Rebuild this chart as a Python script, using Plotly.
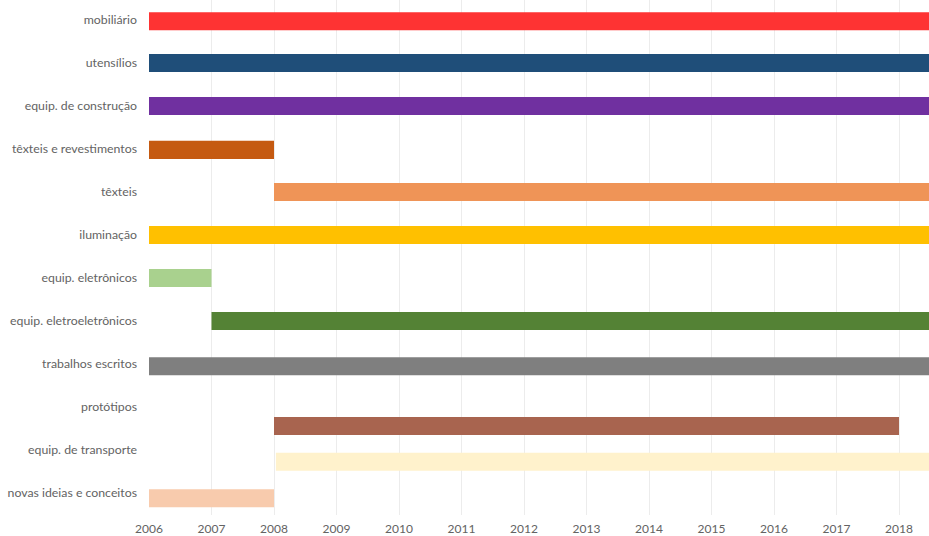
import plotly.graph_objects as go

categories = [
    "mobiliário", "utensílios", "equip. de construção", "têxteis e revestimentos",
    "têxteis", "iluminação", "equip. eletrônicos", "equip. eletroeletrônicos",
    "trabalhos escritos", "protótipos", "equip. de transporte", "novas ideias e conceitos",
]
start_year = [2006, 2006, 2006, 2006, 2008, 2006, 2006, 2007, 2006, 2008, 2008.03, 2006]
end_year = [2019, 2019, 2019, 2008, 2019, 2019, 2007, 2019, 2019, 2018, 2019, 2008]
colors = [
    "#FE3333", "#1F4E79", "#7030A0", "#C55A11", "#EF9457", "#FFC000",
    "#A9D18E", "#548235", "#7F7F7F", "#A8644F", "#FFF2CC", "#F8CBAD",
]
year_ticks = list(range(2006, 2019))

bar_w = 0.42
shift = [0.03, 0, 0, 0.02, 0, 0, 0, 0, 0.05, 0.44, 0.27, 0.12]
offsets = [-bar_w / 2 + s for s in shift]

fig = go.Figure(
    go.Bar(
        y=categories,
        x=[e - s for s, e in zip(start_year, end_year)],
        base=start_year,
        orientation="h",
        width=bar_w,
        offset=offsets,
        marker=dict(color=colors, line=dict(width=0)),
        hoverinfo="skip",
    )
)

fig.update_layout(
    width=929, height=536,
    margin=dict(l=149, r=0, t=0, b=21),
    paper_bgcolor="white", plot_bgcolor="white",
    showlegend=False,
    font=dict(family="Lato, Open Sans, sans-serif", size=12, color="#636363"),
)
fig.update_xaxes(
    range=[2006, 2018.48],
    tickvals=year_ticks, ticktext=[str(t) for t in year_ticks],
    showgrid=True, gridcolor="#ECECEC", gridwidth=1,
    zeroline=False, showline=False, ticks="",
    ticklabelstandoff=5, automargin=False,
    tickfont=dict(size=12, color="#636363"),
)
fig.update_yaxes(
    categoryorder="array", categoryarray=categories,
    range=[11.51, -0.465],
    showgrid=False, zeroline=False, showline=False, ticks="",
    ticklabelstandoff=11, automargin=False,
    tickfont=dict(size=12.3, color="#636363"),
)

fig.write_html(
    "out.html",
    config={"displayModeBar": False},
    post_script="document.body.style.margin='0px';document.body.style.overflow='hidden';",
)
